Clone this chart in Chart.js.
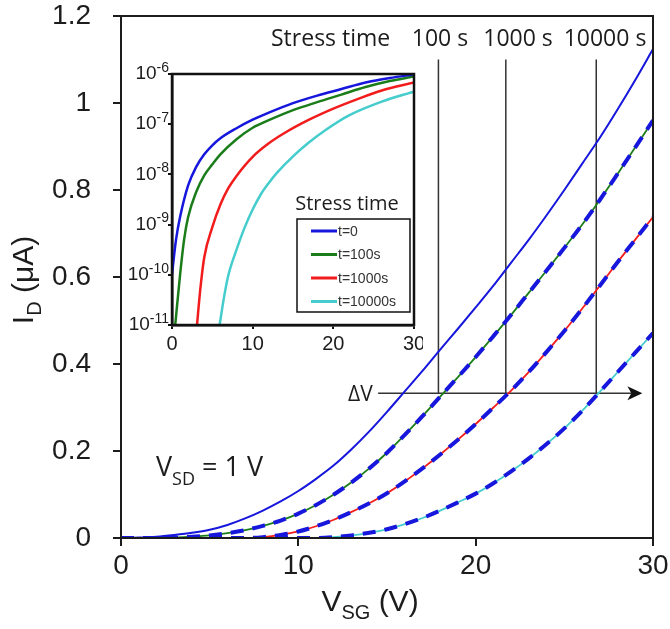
<!DOCTYPE html>
<html><head><meta charset="utf-8">
<script src="https://cdn.jsdelivr.net/npm/chart.js@4.4.1/dist/chart.umd.min.js"></script>
<style>
html,body{margin:0;padding:0;background:#fff;}
#wrap{position:relative;width:670px;height:629px;overflow:hidden;}
#main{position:absolute;left:0;top:0;}
#inset{position:absolute;left:118px;top:55px;}
</style></head><body>
<div id="wrap"><canvas id="main" width="670" height="629"></canvas><canvas id="inset" width="305" height="310"></canvas></div>
<script>
// ---------- main plot data (I_D in uA vs V_SG in V) ----------
const vsg = [0,1,2,3,4,5,6,7,8,9,10,11,12,13,14,15,16,17,18,19,20,21,22,23,24,25,26,27,28,29,30];
const idT0     = [0,0.001,0.003,0.007,0.012,0.019,0.03,0.045,0.063,0.084,0.108,0.136,0.167,0.204,0.245,0.29,0.337,0.384,0.433,0.481,0.53,0.58,0.633,0.686,0.742,0.80,0.86,0.92,0.985,1.053,1.124];
const idT100   = [0,0,0,0.001,0.003,0.006,0.011,0.018,0.028,0.04,0.056,0.076,0.1,0.128,0.16,0.196,0.237,0.28,0.325,0.37,0.416,0.464,0.513,0.564,0.615,0.667,0.72,0.777,0.837,0.898,0.96];
const idT1000  = [0,0,0,0,0,0,0,0,0.002,0.007,0.015,0.027,0.042,0.06,0.08,0.103,0.13,0.16,0.192,0.226,0.262,0.3,0.339,0.382,0.428,0.476,0.527,0.58,0.634,0.686,0.738];
const idT10000 = [0,0,0,0,0,0,0,0,0,0,0,0,0.002,0.006,0.012,0.02,0.032,0.046,0.063,0.082,0.102,0.126,0.153,0.183,0.216,0.252,0.292,0.336,0.381,0.426,0.471];
const xTicks = [0,10,20,30];
const yTicks = [0,0.2,0.4,0.6,0.8,1,1.2];
// annotation values
const stressLabels = ['100 s','1000 s','10000 s'];
const stressLineV = [17.9, 21.7, 26.8];
const stressLineTopI = 1.1;
const deltaVLevel = 0.333;
const arrowStartV = 14.5, arrowEndV = 29.4;

// ---------- inset data (log scale, I_D in A) ----------
const insetT0V      = [0,0.5,1,2,3,4,5,6,8,10,12,15,18,21,24,27,30];
const insetT0Log    = [-9.98,-9.3,-8.85,-8.22,-7.85,-7.6,-7.42,-7.28,-7.08,-6.91,-6.77,-6.58,-6.43,-6.3,-6.17,-6.08,-6.01];
const insetT100V    = [0.4,1,1.5,2,3,4,5,6,8,10,12,15,18,21,24,27,30];
const insetT100Log  = [-11,-10,-9.3,-8.85,-8.35,-8.02,-7.8,-7.6,-7.3,-7.07,-6.92,-6.72,-6.56,-6.41,-6.26,-6.14,-6.05];
const insetT1000V   = [3.1,3.5,4,5,6,7,8,10,12,14,17,20,23,26,30];
const insetT1000Log = [-11,-10.3,-9.65,-9.05,-8.6,-8.27,-8.03,-7.65,-7.38,-7.17,-6.91,-6.69,-6.5,-6.33,-6.17];
const insetT10000V  = [5.9,6.5,7,8,9,10,11,12,13,15,17,19,22,26,30];
const insetT10000Log= [-11,-10.4,-10.0,-9.5,-9.06,-8.7,-8.4,-8.17,-7.97,-7.64,-7.36,-7.12,-6.82,-6.55,-6.35];
const insetExponents = [-6,-7,-8,-9,-10,-11];
const insetLegendTitle = 'Stress time';

const C_BLUE='#1616dc', C_GREEN='#1a7d1a', C_RED='#f21c1c', C_CYAN='#45cccc', C_INK='#1c1c1c';
const SANS='"Liberation Sans", Arial, sans-serif';
const HUM='"Open Sans", "Noto Sans", sans-serif';

const pts = (xs, ys) => xs.map((x,i)=>({x, y: ys[i]}));
const logPts = (xs, ls) => xs.map((x,i)=>({x, y: Math.pow(10, ls[i])}));

function drawRich(ctx, parts, x, y){
  for(const p of parts){ ctx.font=p.f; ctx.fillText(p.t, x, y+(p.dy||0)); x+=ctx.measureText(p.t).width; }
}
function richWidth(ctx, parts){ let w=0; for(const p of parts){ ctx.font=p.f; w+=ctx.measureText(p.t).width; } return w; }
function noPad(s){ s.paddingTop=0; s.paddingBottom=0; s.paddingLeft=0; s.paddingRight=0; }

const curve = (data, color, width, order) => ({data, borderColor:color, borderWidth:width, pointRadius:0, cubicInterpolationMode:'monotone', order, fill:false});
const dashed = (data, order) => ({data, borderColor:C_BLUE, borderWidth:4, borderDash:[13,9], pointRadius:0, cubicInterpolationMode:'monotone', order, fill:false});

const mainDatasets = [
  dashed(pts(vsg, idT100), 0),
  dashed(pts(vsg, idT1000), 0),
  dashed(pts(vsg, idT10000), 0),
  curve(pts(vsg, idT0), C_BLUE, 2, 1),
  curve(pts(vsg, idT100), C_GREEN, 1.8, 1),
  curve(pts(vsg, idT1000), C_RED, 1.8, 1),
  curve(pts(vsg, idT10000), C_CYAN, 1.8, 1),
];
stressLineV.forEach(v => mainDatasets.push({data:[{x:v,y:deltaVLevel},{x:v,y:stressLineTopI}], borderColor:'#333', borderWidth:1.5, pointRadius:0, order:2}));
mainDatasets.push({data:[{x:arrowStartV,y:deltaVLevel},{x:arrowEndV-0.6,y:deltaVLevel}], borderColor:'#333', borderWidth:1.5, pointRadius:0, order:2});

const mainDecor = {
  id:'mainDecor',
  afterDatasetsDraw(chart){
    const {ctx, chartArea:a, scales:{x,y}} = chart;
    ctx.save();
    ctx.strokeStyle=C_INK; ctx.lineWidth=2;
    ctx.strokeRect(a.left, a.top, a.right-a.left, a.bottom-a.top);
    const tx=x.getPixelForValue(arrowEndV), ty=y.getPixelForValue(deltaVLevel);
    ctx.fillStyle='#111'; ctx.beginPath(); ctx.moveTo(tx,ty); ctx.lineTo(tx-15,ty-7); ctx.lineTo(tx-11,ty); ctx.lineTo(tx-15,ty+7); ctx.closePath(); ctx.fill();
    ctx.fillStyle=C_INK; ctx.textBaseline='alphabetic'; ctx.textAlign='left';
    ctx.font='23px '+HUM;
    ctx.fillText('Stress time', 271, 46);
    const lc=[440,518,605];
    ctx.textAlign='center';
    stressLabels.forEach((s,i)=>ctx.fillText(s, lc[i], 46));
    ctx.textAlign='left';
    ctx.font='21px '+HUM;
    ctx.fillText('ΔV', 348, 401);
    drawRich(ctx, [{t:'V',f:'27px '+HUM},{t:'SD',f:'18px '+HUM,dy:9},{t:' = 1 V',f:'27px '+HUM}], 156, 476);
    const xt=[{t:'V',f:'30px '+SANS},{t:'SG',f:'20px '+SANS,dy:8},{t:' (V)',f:'30px '+SANS}];
    drawRich(ctx, xt, 370 - richWidth(ctx,xt)/2, 611);
    const yt=[{t:'I',f:'30px '+SANS},{t:'D',f:'20px '+SANS,dy:8},{t:' (μA)',f:'30px '+SANS}];
    ctx.translate(33, 280); ctx.rotate(-Math.PI/2);
    drawRich(ctx, yt, -richWidth(ctx,yt)/2, 0);
    ctx.restore();
  }
};

new Chart(document.getElementById('main'), {
  type:'line',
  data:{datasets:mainDatasets},
  options:{
    responsive:false, animation:false, devicePixelRatio:1,
    layout:{padding:{top:16,right:17,left:0,bottom:0}},
    plugins:{legend:{display:false}, tooltip:{enabled:false}},
    scales:{
      x:{type:'linear', min:0, max:30,
        afterBuildTicks(s){ s.ticks = xTicks.map(v=>({value:v})); },
        ticks:{font:{family:SANS,size:28}, color:C_INK, padding:3, maxRotation:0, autoSkip:false},
        grid:{drawOnChartArea:false, drawTicks:true, tickLength:8, color:C_INK, lineWidth:2},
        border:{display:true, color:C_INK, width:2},
        afterFit(s){ s.height=91; noPad(s); }},
      y:{type:'linear', min:0, max:1.2,
        afterBuildTicks(s){ s.ticks = yTicks.map(v=>({value:v})); },
        ticks:{font:{family:SANS,size:28}, color:C_INK, padding:22, autoSkip:false,
          callback:(v)=> String(Math.round(v*10)/10)},
        grid:{drawOnChartArea:false, drawTicks:true, tickLength:8, color:C_INK, lineWidth:2},
        border:{display:true, color:C_INK, width:2},
        afterFit(s){ s.width=121; noPad(s); }}
    }
  },
  plugins:[mainDecor]
});

// ---------- inset ----------
const insetDatasets = [
  {label:'t=0', data:logPts(insetT0V, insetT0Log), borderColor:C_BLUE},
  {label:'t=100s', data:logPts(insetT100V, insetT100Log), borderColor:C_GREEN},
  {label:'t=1000s', data:logPts(insetT1000V, insetT1000Log), borderColor:C_RED},
  {label:'t=10000s', data:logPts(insetT10000V, insetT10000Log), borderColor:C_CYAN},
].map(d=>Object.assign(d,{borderWidth:2.5, pointRadius:0, cubicInterpolationMode:'monotone', fill:false}));

// inset canvas origin = (118, 55) in page coords
const insetDecor = {
  id:'insetDecor',
  afterDatasetsDraw(chart){
    const {ctx, chartArea:a, scales:{y}} = chart;
    ctx.save();
    ctx.strokeStyle='#111'; ctx.lineWidth=2.5;
    ctx.strokeRect(a.left, a.top, a.right-a.left, a.bottom-a.top);
    ctx.fillStyle=C_INK; ctx.textBaseline='middle';
    insetExponents.forEach(e=>{
      const py=y.getPixelForValue(Math.pow(10,e));
      const parts=[{t:'10',f:'19px '+SANS},{t:String(e),f:'14px '+SANS,dy:-6}];
      const w=richWidth(ctx,parts);
      drawRich(ctx, parts, a.left-3-w, py);
    });
    ctx.textBaseline='alphabetic'; ctx.textAlign='center';
    ctx.font='20px '+HUM;
    ctx.fillText(insetLegendTitle, 229, 155);
    ctx.textAlign='left';
    ctx.lineWidth=1.5; ctx.strokeStyle='#111';
    ctx.strokeRect(179, 164, 113, 93);
    chart.data.datasets.forEach((d,i)=>{
      const ly=176+i*23.5;
      ctx.strokeStyle=d.borderColor; ctx.lineWidth=3;
      ctx.beginPath(); ctx.moveTo(193,ly); ctx.lineTo(219,ly); ctx.stroke();
      ctx.fillStyle='#333'; ctx.font='14px '+SANS; ctx.textBaseline='middle';
      ctx.fillText(d.label, 220, ly+1);
    });
    ctx.restore();
  }
};

new Chart(document.getElementById('inset'), {
  type:'line',
  data:{datasets:insetDatasets},
  options:{
    responsive:false, animation:false, devicePixelRatio:1,
    layout:{padding:{top:19,right:9,left:0,bottom:0}},
    plugins:{legend:{display:false}, tooltip:{enabled:false}},
    scales:{
      x:{type:'linear', min:0, max:30,
        afterBuildTicks(s){ s.ticks = xTicks.map(v=>({value:v})); },
        ticks:{font:{family:SANS,size:20}, color:C_INK, padding:3, maxRotation:0, autoSkip:false},
        grid:{drawOnChartArea:false, drawTicks:true, tickLength:4, color:'#111', lineWidth:2},
        border:{display:true, color:'#111', width:2.5},
        afterFit(s){ s.height=40; noPad(s); }},
      y:{type:'logarithmic', min:1e-11, max:1e-6,
        afterBuildTicks(s){ s.ticks = insetExponents.map(e=>({value:Math.pow(10,e)})); },
        ticks:{callback:()=> '', autoSkip:false},
        grid:{drawOnChartArea:false, drawTicks:true, tickLength:4, color:'#111', lineWidth:2},
        border:{display:true, color:'#111', width:2.5},
        afterFit(s){ s.width=54; noPad(s); }}
    }
  },
  plugins:[insetDecor]
});
</script>
</body></html>
